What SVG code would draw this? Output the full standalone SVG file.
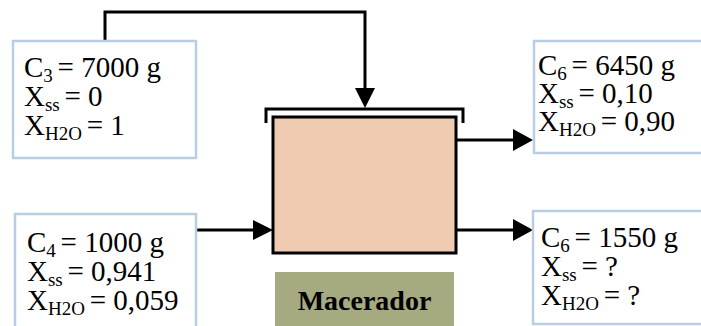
<svg xmlns="http://www.w3.org/2000/svg" width="701" height="326" viewBox="0 0 701 326">
<style>
.box{fill:#ffffff;stroke:#b9cde3;stroke-width:2.5}
.t{font-family:"Liberation Serif","Times New Roman",serif;font-size:29px;fill:#000}
.s{font-size:19px}
.b{font-size:28px;font-weight:bold}
.ln{fill:none;stroke:#000;stroke-width:3}
.ah{fill:#000}
</style>
<rect width="701" height="326" fill="#ffffff"/>
<g id="connectors">
<path class="ln" d="M105,41 V12 H365 V90"/>
<polygon class="ah" points="355,88 375,88 365,108"/>
<path class="ln" d="M194,230 H255"/>
<polygon class="ah" points="253,220 253,240 273,230"/>
<path class="ln" d="M456,140 H515"/>
<polygon class="ah" points="513,129 513,151 533,140"/>
<path class="ln" d="M456,230 H515"/>
<polygon class="ah" points="513,219 513,241 533,230"/>
</g>
<g id="c3">
<rect class="box" x="13" y="41" width="183" height="117"/>
<text class="t" x="24" y="77">C<tspan class="s" dy="5">3 </tspan><tspan dy="-5">= 7000 g</tspan></text>
<text class="t" x="24" y="106">X<tspan class="s" dy="5">ss </tspan><tspan dy="-5">= 0</tspan></text>
<text class="t" x="24" y="135">X<tspan class="s" dy="5">H2O </tspan><tspan dy="-5">= 1</tspan></text>
</g>
<g id="c4">
<rect class="box" x="15" y="214" width="181" height="120"/>
<text class="t" x="27" y="252">C<tspan class="s" dy="5">4 </tspan><tspan dy="-5">= 1000 g</tspan></text>
<text class="t" x="27" y="281">X<tspan class="s" dy="5">ss </tspan><tspan dy="-5">= 0,941</tspan></text>
<text class="t" x="27" y="310">X<tspan class="s" dy="5">H2O </tspan><tspan dy="-5">= 0,059</tspan></text>
</g>
<g id="c6a">
<rect class="box" x="534" y="41" width="180" height="112"/>
<text class="t" x="538" y="75">C<tspan class="s" dy="5">6 </tspan><tspan dy="-5">= 6450 g</tspan></text>
<text class="t" x="538" y="103">X<tspan class="s" dy="5">ss </tspan><tspan dy="-5">= 0,10</tspan></text>
<text class="t" x="538" y="131">X<tspan class="s" dy="5">H2O </tspan><tspan dy="-5">= 0,90</tspan></text>
</g>
<g id="c6b">
<rect class="box" x="533" y="211" width="180" height="113"/>
<text class="t" x="541" y="247">C<tspan class="s" dy="5">6 </tspan><tspan dy="-5">= 1550 g</tspan></text>
<text class="t" x="541" y="276">X<tspan class="s" dy="5">ss </tspan><tspan dy="-5">= ?</tspan></text>
<text class="t" x="541" y="305">X<tspan class="s" dy="5">H2O </tspan><tspan dy="-5">= ?</tspan></text>
</g>
<g id="macerador">
<path class="ln" d="M266,123 V109 H463 V123"/>
<rect x="273" y="117" width="183" height="136" fill="#efcbb2" stroke="#000" stroke-width="3"/>
</g>
<g id="label">
<rect x="275" y="272" width="179" height="56" fill="#a5aa80"/>
<text class="t b" x="364.5" y="310" text-anchor="middle">Macerador</text>
</g>
</svg>
